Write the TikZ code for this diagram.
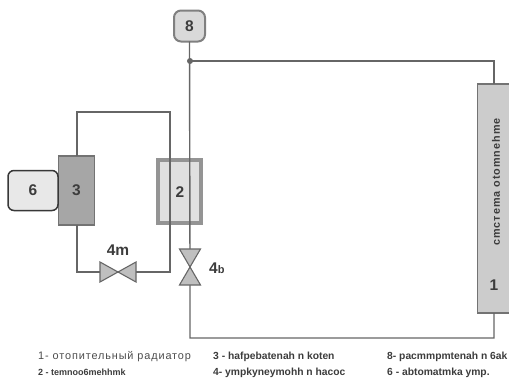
\documentclass[tikz,border=0pt]{standalone}
\usepackage{fontspec}
\setmainfont{Liberation Sans}
\newfontfamily\spacedfont[LetterSpace=9]{Liberation Sans}
\newfontfamily\widefont[LetterSpace=8]{Liberation Sans}
\usetikzlibrary{positioning}
\definecolor{pipe}{HTML}{666666}
\definecolor{ink}{HTML}{3C3C3C}
\tikzset{
  pipeline/.style={draw=pipe,line width=1.4pt},
  boxbase/.style={inner sep=0pt,outer sep=0pt,text=ink,font=\bfseries\fontsize{15.5}{16}\selectfont},
  legend/.style={anchor=west,inner sep=0pt,text=ink,font=\bfseries\fontsize{10.3}{11}\selectfont},
  valvepart/.style={draw=black!60,fill=black!25,line width=1.1pt,line join=miter},
}
\begin{document}
\begin{tikzpicture}[x=1pt,y=-1pt]
\useasboundingbox (0,0) rectangle (509,380);
% nodes
\node[boxbase,draw=black!50,fill=black!15,line width=2pt,rounded corners=7pt,minimum width=31pt,minimum height=31pt] (tank) at (189.5,26) {8};
\coordinate (junction) at (190,61);
\node[boxbase,draw=black!55,fill=black!20,line width=1.5pt,minimum width=33pt,minimum height=229pt,anchor=north west] (rad) at (477.5,84) {};
\node[boxbase,anchor=center] (radnum) at (494,285) {1};
\node[anchor=center,rotate=90,inner sep=0pt,text=ink,font=\spacedfont\bfseries\fontsize{10.8}{11}\selectfont] (radtext) at (496,182) {cmcтema otomnehme};
\node[boxbase,draw=black!42,fill=black!12,line width=4pt,minimum width=43pt,minimum height=63pt,anchor=north west] (hx) at (158,160) {};
\node[boxbase,draw=black!55,fill=black!35,line width=1.4pt,minimum width=36pt,minimum height=69pt,anchor=north west] (boiler) at (58.5,156) {3};
\node[boxbase,draw=black!78,fill=black!9,line width=1.5pt,rounded corners=6pt,minimum width=50pt,minimum height=40pt,anchor=north west] (autom) at (8,170.5) {6};
\coordinate (vA) at (118,272);
\coordinate (vB) at (190,267);
\coordinate (c1) at (170,112);
\coordinate (c2) at (77,112);
\coordinate (c3) at (77,272);
\coordinate (c4) at (170,272);
\coordinate (c5) at (190,338);
\coordinate (c6) at (494,338);
\coordinate (c7) at (494,61);
% pipes
\draw[pipeline] (tank.south) -- (vB) -- (c5) -- (c6) -- (rad.south -| c6);
\draw[pipeline] (junction) -- (c7) -- (rad.north -| c7);
\fill[pipe] (junction) circle (3pt);
\draw[pipeline] (boiler.north -| c2) -- (c2) -- (c1) -- (c4) -- (c3) -- (boiler.south -| c3);
\node[inner sep=0pt,text=ink,font=\bfseries\fontsize{15.5}{16}\selectfont] (hxnum) at (180,192) {2};
% valves
\draw[valvepart] (vA) -- (100,262) -- (100,282) -- cycle;
\draw[valvepart] (vA) -- (136,262) -- (136,282) -- cycle;
\draw[valvepart] (vB) -- (179.5,249) -- (200.5,249) -- cycle;
\draw[valvepart] (vB) -- (179.5,285) -- (200.5,285) -- cycle;
% labels
\node[boxbase] (lblm) at (118,250) {4m};
\node[anchor=west,inner sep=0pt,text=ink,font=\bfseries] (lblb) at (209,268) {{\fontsize{15.5}{16}\selectfont 4}{\fontsize{11}{11}\selectfont b}};
% legend
\node[legend,font=\widefont\fontsize{10.9}{11}\selectfont,text=black!70] (l1) at (38,357) {1- отопительный радиатор};
\node[legend,font=\bfseries\fontsize{9}{10}\selectfont] (l2) at (38,372) {2 - temnoo6mehhmk};
\node[legend] (l3) at (213,357) {3 - hafpebatenah n koten};
\node[legend] (l4) at (213,373) {4- ympkyneymohh n hacoc};
\node[legend] (l5) at (387,357) {8- pacmmpmtenah n 6ak};
\node[legend] (l6) at (387,373) {6 - abtomatmka ymp.};
\end{tikzpicture}
\end{document}
